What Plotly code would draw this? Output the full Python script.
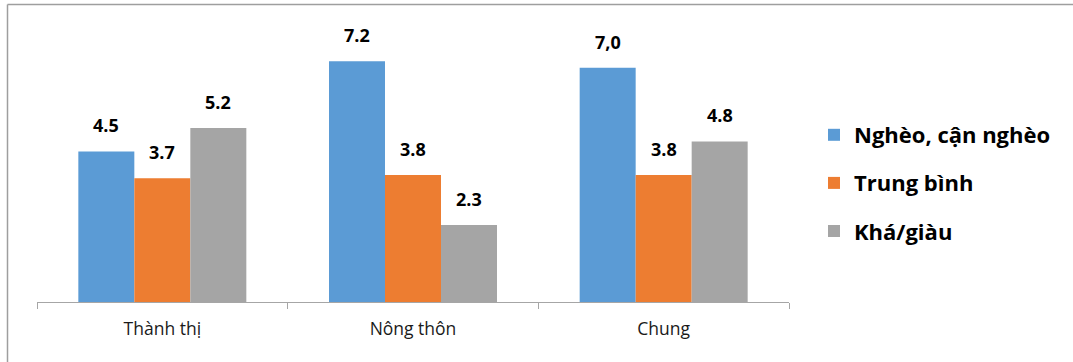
import plotly.graph_objects as go

# Nhóm khu vực và các nhóm mức sống
categories = ["Thành thị", "Nông thôn", "Chung"]
series_names = ["Nghèo, cận nghèo", "Trung bình", "Khá/giàu"]
values_ngheo = [4.5, 7.2, 7.0]
values_trungbinh = [3.7, 3.8, 3.8]
values_khagiau = [5.2, 2.3, 4.8]
labels_ngheo = ["4.5", "7.2", "7,0"]
labels_trungbinh = ["3.7", "3.8", "3.8"]
labels_khagiau = ["5.2", "2.3", "4.8"]

colors = ["#5B9BD5", "#ED7D31", "#A5A5A5"]
series_values = [values_ngheo, values_trungbinh, values_khagiau]
series_labels = [labels_ngheo, labels_trungbinh, labels_khagiau]

FONT = "Open Sans"
bar_w = 0.2234
x_pos = list(range(len(categories)))

fig = go.Figure()
annotations = []
for k, (name, vals, labs, col) in enumerate(zip(series_names, series_values, series_labels, colors)):
    offset = (k - 1.5) * bar_w
    fig.add_trace(go.Bar(
        x=x_pos, y=vals, name=name, width=bar_w, offset=offset,
        marker=dict(color=col, line=dict(width=0)),
        legendgroup=name,
    ))
    for i, (v, t) in enumerate(zip(vals, labs)):
        annotations.append(dict(
            x=i + offset + bar_w / 2, y=v, xref="x", yref="y",
            text=f"<b>{t}</b>", showarrow=False, yanchor="bottom",
            yshift=12, font=dict(family=FONT, size=18, color="#000000"),
        ))

L, T = 37, 20
W, H = 1073, 362
plot_w = 789 - L
plot_h = 302 - T

def px_x(px):
    return (px - L) / plot_w

def px_y(py):
    return (302 - py) / plot_h

border = dict(color="#9E9E9E", width=1.5)

fig.update_layout(
    width=W, height=H,
    margin=dict(l=L, r=W - 789, t=T, b=H - 302, pad=0),
    paper_bgcolor="white", plot_bgcolor="white",
    showlegend=True,
    legend=dict(
        x=px_x(814), y=px_y(114), xanchor="left", yanchor="top",
        font=dict(family=FONT, size=22, color="#000000", weight="bold"),
        tracegroupgap=16.5, itemwidth=30, bgcolor="rgba(0,0,0,0)",
    ),
    xaxis=dict(
        range=[-0.5, 2.5], tickvals=x_pos, ticktext=categories,
        ticks="", showline=True, linecolor="#A6A6A6", linewidth=1,
        showgrid=False, zeroline=False, fixedrange=True,
        tickfont=dict(family=FONT, size=17.5, color="#1a1a1a"),
        ticklabelstandoff=11,
        minor=dict(tick0=-0.5, dtick=1, ticks="outside", ticklen=6,
                   tickcolor="#A6A6A6", tickwidth=1, showgrid=False),
    ),
    yaxis=dict(range=[0, plot_h / 33.45], visible=False, showgrid=False,
               zeroline=False, fixedrange=True),
    annotations=annotations,
    shapes=[
        # chart frame: top and left edges
        dict(type="line", xref="paper", yref="paper",
             x0=px_x(7.5), x1=px_x(1073), y0=px_y(4.5), y1=px_y(4.5), line=border),
        dict(type="line", xref="paper", yref="paper",
             x0=px_x(7.5), x1=px_x(7.5), y0=px_y(4.5), y1=px_y(362), line=border),
    ],
)

fig.write_html(
    "out.html",
    config={"displayModeBar": False},
    post_script="document.documentElement.style.overflow='hidden';"
                "document.body.style.margin='0';document.body.style.overflow='hidden';",
)
